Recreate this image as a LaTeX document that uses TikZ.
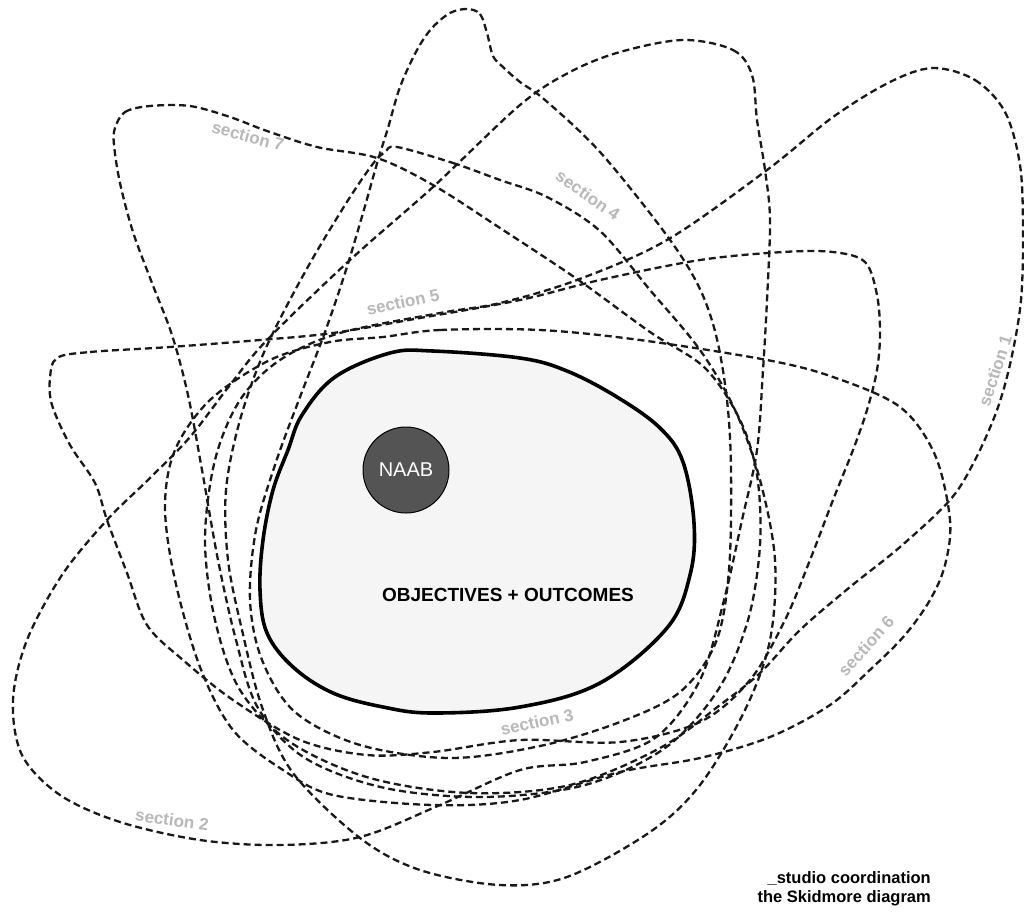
\documentclass[tikz,border=0pt]{standalone}
\usepackage{fontspec}
\setmainfont{Liberation Sans}
\begin{document}
\begin{tikzpicture}[x=1pt,y=-1pt,
  loopline/.style={draw=black!90, line width=2.3pt, dash pattern=on 7pt off 4pt, line join=round},
  seclabel/.style={text=black!28, font=\bfseries\fontsize{17}{17}\selectfont, inner sep=0pt},
  blob/.style={draw=black, line width=3.6pt, fill=black!4},
]
\useasboundingbox (0,0) rectangle (1024,911);
\fill[white] (0,0) rectangle (1024,911);

% section 7
\draw[loopline] plot[smooth cycle, tension=0.55] coordinates {(115,128) (125,112) (150,106) (190,106) (230,117) (267,131) (317,147) (377,158) (433,185) (500,228) (577,279) (650,332) (705,368) (740,420) (757,475) (760,545) (748,620) (718,690) (665,748) (585,785) (485,797) (385,788) (305,758) (258,708) (236,640) (218,560) (202,470) (188,395) (172,335) (152,283) (133,232) (120,183) (114,145)};
% section 3 (tall loop)
\draw[loopline] plot[smooth cycle, tension=0.55] coordinates {(467,9) (480,14) (487,33) (493,56) (503,67) (520,82) (545,100) (600,152) (665,233) (698,285) (716,335) (727,400) (731,470) (729,570) (716,642) (680,692) (620,722) (540,746) (450,758) (360,745) (295,712) (262,660) (250,600) (256,530) (276,462) (300,397) (325,332) (346,270) (363,213) (378,160) (388,128) (400,87) (417,50) (432,28) (450,13)};
% section 4
\draw[loopline] plot[smooth cycle, tension=0.55] coordinates {(397,147) (453,163) (500,180) (547,197) (600,231) (650,290) (700,350) (735,410) (760,480) (775,560) (770,640) (745,710) (700,785) (650,832) (567,877) (500,885) (420,870) (360,838) (293,773) (262,707) (242,630) (228,560) (226,490) (240,420) (265,350) (305,272) (345,205) (372,165) (385,152)};
% section 2
\draw[loopline] plot[smooth cycle, tension=0.55] coordinates {(683,40) (733,50) (752,75) (757,120) (765,170) (770,220) (767,300) (763,370) (757,450) (742,520) (724,600) (700,680) (655,738) (585,762) (520,770) (440,805) (360,837) (280,845) (200,840) (120,822) (60,795) (22,755) (13,700) (27,640) (62,575) (107,520) (150,478) (190,437) (230,385) (267,340) (350,260) (433,187) (520,105) (570,72) (620,52)};
% section 1
\draw[loopline] plot[smooth cycle, tension=0.55] coordinates {(933,68) (975,80) (1005,112) (1020,165) (1023,230) (1021,300) (1011,360) (997,410) (975,460) (950,500) (900,547) (850,587) (800,630) (760,673) (720,705) (660,748) (570,785) (470,793) (370,778) (290,742) (240,690) (215,620) (205,540) (215,460) (240,400) (280,360) (340,333) (440,313) (500,303) (577,280) (667,240) (767,170) (833,117) (890,82)};
% section 5
\draw[loopline] plot[smooth cycle, tension=0.55] coordinates {(57,358) (90,352) (170,347) (260,340) (333,333) (420,318) (520,300) (600,280) (700,260) (783,252) (833,252) (865,262) (877,295) (880,333) (877,370) (867,410) (853,450) (833,500) (810,560) (785,620) (750,680) (700,722) (620,742) (520,740) (433,752) (367,755) (300,740) (233,700) (183,660) (147,625) (127,573) (107,520) (95,483) (70,445) (52,405) (50,378)};
% section 6
\draw[loopline] plot[smooth cycle, tension=0.55] coordinates {(383,337) (440,330) (540,330) (640,340) (767,360) (833,377) (900,407) (935,455) (950,520) (945,565) (930,600) (905,635) (873,667) (830,705) (770,737) (700,758) (620,772) (520,800) (433,805) (333,795) (283,770) (233,730) (200,667) (175,580) (165,507) (175,450) (210,400) (270,360) (330,342)};

% central region
\draw[blob] plot[smooth cycle, tension=0.6] coordinates {(390,353) (433,351) (520,358) (567,371) (617,397) (660,428) (683,462) (694,523) (690,575) (667,628) (600,683) (520,707) (433,713) (383,707) (333,693) (293,667) (267,633) (260,590) (263,540) (273,490) (288,450) (302,415) (335,377)};

\node[circle, fill=black!67, draw=black, line width=1pt, minimum size=86pt, inner sep=0pt, text=white, font=\fontsize{20}{20}\selectfont] (naab) at (406,470) {NAAB};
\node[font=\bfseries\fontsize{19}{19}\selectfont, inner sep=0pt] (obj) at (508,595) {OBJECTIVES + OUTCOMES};

% labels
\node[seclabel, rotate=-15] (l7) at (248,136) {section 7};
\node[seclabel, rotate=-35] (l4) at (588,195) {section 4};
\node[seclabel, rotate=12] (l5) at (403,302) {section 5};
\node[seclabel, rotate=72] (l1) at (995,371) {section 1};
\node[seclabel, rotate=48] (l6) at (866,646) {section 6};
\node[seclabel, rotate=12] (l3) at (537,722) {section 3};
\node[seclabel, rotate=-8] (l2) at (172,820) {section 2};

\node[align=right, anchor=north east, inner sep=0pt, font=\bfseries\fontsize{16.5}{19}\selectfont] (credit) at (931,871) {\_studio coordination\\the Skidmore diagram};
\end{tikzpicture}
\end{document}
